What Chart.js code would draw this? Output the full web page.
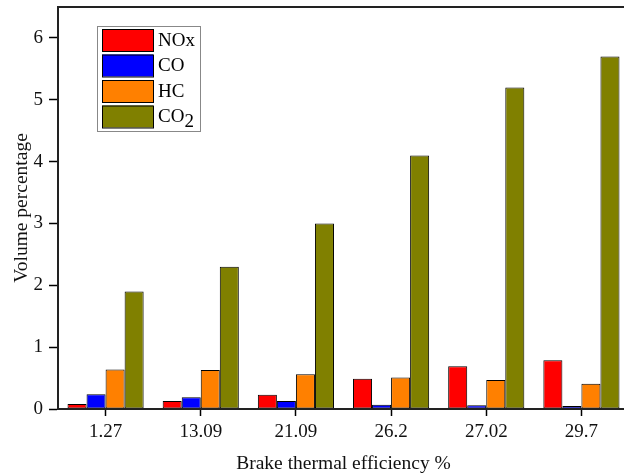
<!DOCTYPE html>
<html>
<head>
<meta charset="utf-8">
<script src="https://cdn.jsdelivr.net/npm/chart.js@4/dist/chart.umd.min.js"></script>
<style>
  html, body { margin: 0; padding: 0; background: #fff; overflow: hidden; }
  #wrap { width: 632px; height: 480px; }
</style>
</head>
<body>
<div id="wrap"><canvas id="emissionChart"></canvas></div>
<script>
// data
const efficiency = ['1.27', '13.09', '21.09', '26.2', '27.02', '29.7'];
const noxValues = [0.08, 0.13, 0.23, 0.49, 0.69, 0.79];
const coValues = [0.24, 0.19, 0.13, 0.07, 0.06, 0.05];
const hcValues = [0.64, 0.63, 0.56, 0.51, 0.47, 0.41];
const co2Values = [1.90, 2.30, 3.00, 4.10, 5.20, 5.70];
const yTicks = [0, 1, 2, 3, 4, 5, 6];

const serif = '"Liberation Serif", "Times New Roman", serif';

// legend box drawn by hand so CO2 gets its subscript
const boxLegend = {
    id: 'boxLegend',
    afterDraw(chart) {
        const ctx = chart.ctx;
        const area = chart.chartArea;
        ctx.save();
        // frame round the plot
        ctx.strokeStyle = '#222';
        ctx.lineWidth = 2;
        ctx.strokeRect(area.left, area.top, area.right - area.left, area.bottom - area.top);

        const x = 97, y = 26, w = 103, rowH = 25.5;
        ctx.lineWidth = 1;
        ctx.strokeStyle = '#888';
        ctx.strokeRect(x + 0.5, y + 0.5, w, rowH * 4 + 3);
        chart.data.datasets.forEach((ds, i) => {
            const sy = y + 3 + i * rowH;
            ctx.fillStyle = ds.backgroundColor;
            ctx.fillRect(x + 5, sy, 51, 22);
            ctx.strokeStyle = '#000';
            ctx.strokeRect(x + 5.5, sy + 0.5, 51, 22);
            ctx.fillStyle = '#000';
            ctx.font = '19px ' + serif;
            ctx.textBaseline = 'middle';
            const lbl = ds.label;
            if (lbl === 'CO2') {
                ctx.fillText('CO', x + 61, sy + 12);
                const cw = ctx.measureText('CO').width;
                ctx.fillText('2', x + 61 + cw, sy + 17);
            } else {
                ctx.fillText(lbl, x + 61, sy + 12);
            }
        });
        ctx.restore();
    }
};

const ctx = document.getElementById('emissionChart').getContext('2d');
new Chart(ctx, {
    type: 'bar',
    data: {
        labels: efficiency,
        datasets: [
            {label: 'NOx', data: noxValues, backgroundColor: '#ff0000'},
            {label: 'CO', data: coValues, backgroundColor: '#0000ff'},
            {label: 'HC', data: hcValues, backgroundColor: '#ff8000'},
            {label: 'CO2', data: co2Values, backgroundColor: '#808000'}
        ].map(d => Object.assign(d, {borderColor: '#000', borderWidth: 1, borderSkipped: false}))
    },
    options: {
        responsive: true,
        maintainAspectRatio: false,
        animation: false,
        layout: {padding: {top: 7, right: 3, left: 0, bottom: 0}},
        datasets: {bar: {categoryPercentage: 0.8, barPercentage: 1.0}},
        plugins: {legend: {display: false}, tooltip: {enabled: false}},
        scales: {
            x: {
                offset: true,
                grid: {display: true, drawOnChartArea: false, offset: false, tickLength: 7, tickColor: '#000', tickWidth: 1.5},
                border: {color: '#222', width: 2},
                ticks: {color: '#111', font: {family: serif, size: 19}, padding: 5},
                title: {display: true, text: 'Brake thermal efficiency %', color: '#111', font: {family: serif, size: 19.5}, padding: {top: 10}},
                afterFit(scale) { scale.height = 71; }
            },
            y: {
                min: 0,
                max: 6.5,
                afterBuildTicks(scale) { scale.ticks = yTicks.map(v => ({value: v})); },
                grid: {display: true, drawOnChartArea: false, tickLength: 9, tickColor: '#000', tickWidth: 1.5},
                border: {color: '#222', width: 2},
                ticks: {color: '#111', font: {family: serif, size: 19}, padding: 6},
                title: {display: true, text: 'Volume percentage', color: '#111', font: {family: serif, size: 19.5}, padding: {top: 10, bottom: 2}},
                afterFit(scale) { scale.width = 58; scale.paddingTop = 0; scale.paddingBottom = 0; }
            }
        }
    },
    plugins: [boxLegend]
});
</script>
</body>
</html>
